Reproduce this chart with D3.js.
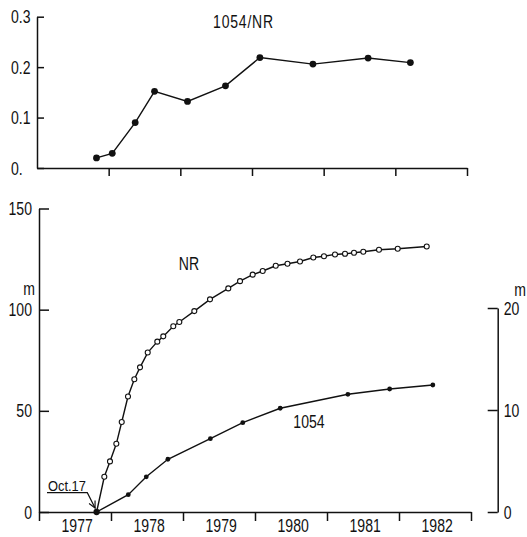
<!DOCTYPE html>
<html>
<head>
<meta charset="utf-8">
<script src="https://cdn.jsdelivr.net/npm/d3@7"></script>
<style>
  body { margin: 0; background: #fff; overflow: hidden; }
  svg { display: block; }
  text { font-family: "Liberation Sans", Arial, sans-serif; fill: #111; }
  .axis path, .axis line { stroke: #111; stroke-width: 1.5; }
  .axis text { font-size: 19px; }
</style>
</head>
<body>
<div id="chart"></div>
<script>
// ratio 1054/NR (top panel)
var ratioYears  = [1977.83, 1978.05, 1978.37, 1978.64, 1979.10, 1979.63, 1980.11, 1980.85, 1981.62, 1982.21];
var ratioValues = [0.020, 0.029, 0.090, 0.152, 0.132, 0.163, 0.219, 0.206, 0.218, 0.209];

// NR, cumulative m (left axis)
var nrYears  = [1977.80, 1977.907, 1977.986, 1978.074, 1978.149, 1978.236, 1978.324, 1978.403, 1978.510, 1978.643,
                1978.726, 1978.865, 1978.949, 1979.157, 1979.375, 1979.629, 1979.792, 1979.968, 1980.107, 1980.288,
                1980.451, 1980.625, 1980.810, 1980.958, 1981.111, 1981.250, 1981.375, 1981.504, 1981.722, 1981.982, 1982.385];
var nrValues = [0, 17.4, 25, 33.7, 44.5, 57.1, 65.6, 71.5, 78.8, 84.2,
                86.8, 91.8, 93.9, 99.3, 105.1, 110.5, 114.1, 117.3, 119.1, 121.7,
                122.7, 123.8, 125.8, 126.4, 127.3, 127.6, 128.1, 128.6, 129.6, 130.1, 131.2];

// 1054, cumulative m (right axis)
var s1054Years  = [1977.80, 1978.24, 1978.49, 1978.79, 1979.38, 1979.83, 1980.35, 1981.29, 1981.87, 1982.47];
var s1054Values = [0, 1.7, 3.45, 5.17, 7.19, 8.76, 10.17, 11.54, 12.06, 12.45];

var yearBounds = [1977, 1978, 1979, 1980, 1981, 1982, 1983];
var yearLabels = [1977, 1978, 1979, 1980, 1981, 1982];
var topTicks = [0, 0.1, 0.2, 0.3];
var topTickLabels = ["0.", "0.1", "0.2", "0.3"];
var leftTicks = [0, 50, 100, 150];
var rightTicks = [0, 10, 20];

var width = 527, height = 537;
var squeeze = 0.74;   // narrow lettering like the original

var svg = d3.select("#chart")
  .append("svg")
  .attr("width", width)
  .attr("height", height);

svg.append("defs").append("marker")
  .attr("id", "arrow")
  .attr("viewBox", "0 0 10 10")
  .attr("refX", 9).attr("refY", 5)
  .attr("markerWidth", 7).attr("markerHeight", 7)
  .attr("orient", "auto")
  .append("path")
  .attr("d", "M1,1 L9,5 L1,9")
  .attr("fill", "none")
  .attr("stroke", "#111")
  .attr("stroke-width", 1.4);

function label(x, y, size, anchor, str, sx) {
  return svg.append("text")
    .attr("transform", "translate(" + x + "," + y + ") scale(" + (sx || squeeze) + ",1)")
    .attr("text-anchor", anchor)
    .attr("font-size", size + "px")
    .text(str);
}

// squeeze the tick texts an axis made, keeping their anchor point
function narrowTicks(g, dx, anchor) {
  g.selectAll(".tick text")
    .attr("x", null)
    .attr("text-anchor", anchor)
    .attr("transform", "translate(" + dx + ",0) scale(" + squeeze + ",1)");
}

// scales
var xTop = d3.scaleLinear().domain([1977, 1983]).range([37, 467]);
var yTop = d3.scaleLinear().domain([0, 0.3]).range([168, 16.7]);
var xBot = d3.scaleLinear().domain([1977, 1983]).range([39, 471]);
var yLeft = d3.scaleLinear().domain([0, 150]).range([512, 208.5]);
var yRight = d3.scaleLinear().domain([0, 20]).range([512, 308]);

// ---- top panel
svg.append("g")
  .attr("class", "axis")
  .attr("transform", "translate(0," + yTop(0) + ")")
  .call(d3.axisBottom(xTop).tickValues(yearBounds.slice(1)).tickSize(8).tickSizeOuter(0).tickFormat(""));

svg.append("g")
  .attr("class", "axis")
  .attr("transform", "translate(" + xTop(1977) + ",0)")
  .call(d3.axisLeft(yTop).tickValues(topTicks).tickSizeInner(-7).tickSizeOuter(0)
    .tickFormat(function(d, i) { return topTickLabels[i]; }))
  .call(function(g) { narrowTicks(g, -26, "start"); });

var ratioLine = d3.line()
  .x(function(d, i) { return xTop(ratioYears[i]); })
  .y(function(d) { return yTop(d); });

svg.append("path")
  .datum(ratioValues)
  .attr("d", ratioLine)
  .attr("fill", "none")
  .attr("stroke", "#111")
  .attr("stroke-width", 1.4);

svg.selectAll(".ratioDot")
  .data(ratioValues)
  .enter()
  .append("circle")
    .attr("class", "ratioDot")
    .attr("cx", function(d, i) { return xTop(ratioYears[i]); })
    .attr("cy", function(d) { return yTop(d); })
    .attr("r", 3.4)
    .attr("fill", "#111");

label(243.5, 27.5, 17.5, "middle", "1054/NR", 0.8).attr("letter-spacing", "1px");

// ---- bottom panel
svg.append("g")
  .attr("class", "axis")
  .attr("transform", "translate(0," + yLeft(0) + ")")
  .call(d3.axisBottom(xBot).tickValues(yearBounds).tickSize(9).tickSizeOuter(0).tickFormat(""));

yearLabels.forEach(function(d) {
  label(xBot(d + 0.53), 532, 18.5, "middle", d, 0.76);
});

svg.append("g")
  .attr("class", "axis")
  .attr("transform", "translate(" + xBot(1977) + ",0)")
  .call(d3.axisLeft(yLeft).tickValues(leftTicks).tickSizeInner(-10).tickSizeOuter(0))
  .call(function(g) { narrowTicks(g, -7, "end"); });

svg.append("g")
  .attr("class", "axis")
  .attr("transform", "translate(497.7,0)")
  .call(d3.axisRight(yRight).tickValues(rightTicks).tickSizeInner(-10).tickSizeOuter(0))
  .call(function(g) { narrowTicks(g, 6, "start"); });

label(29, 294.5, 19, "middle", "m");
label(520, 295.5, 19, "middle", "m");

var lineLeft = d3.line()
  .x(function(d, i) { return xBot(nrYears[i]); })
  .y(function(d) { return yLeft(d); });

var lineRight = d3.line()
  .x(function(d, i) { return xBot(s1054Years[i]); })
  .y(function(d) { return yRight(d); });

svg.append("path")
  .datum(s1054Values)
  .attr("d", lineRight)
  .attr("fill", "none")
  .attr("stroke", "#111")
  .attr("stroke-width", 1.4);

svg.selectAll(".dot1054")
  .data(s1054Values)
  .enter()
  .append("circle")
    .attr("class", "dot1054")
    .attr("cx", function(d, i) { return xBot(s1054Years[i]); })
    .attr("cy", function(d) { return yRight(d); })
    .attr("r", 2.4)
    .attr("fill", "#111");

svg.append("path")
  .datum(nrValues)
  .attr("d", lineLeft)
  .attr("fill", "none")
  .attr("stroke", "#111")
  .attr("stroke-width", 1.4);

svg.selectAll(".dotNR")
  .data(nrValues)
  .enter()
  .append("circle")
    .attr("class", "dotNR")
    .attr("cx", function(d, i) { return xBot(nrYears[i]); })
    .attr("cy", function(d) { return yLeft(d); })
    .attr("r", function(d, i) { return i === 0 ? 2.6 : 2.5; })
    .attr("fill", function(d, i) { return i === 0 ? "#111" : "#fff"; })
    .attr("stroke", "#111")
    .attr("stroke-width", 1.1);

label(189, 269.5, 19, "middle", "NR");
label(309, 427.5, 19, "middle", "1054");

// Oct.17 annotation pointing at the start point
var x0 = xBot(nrYears[0]), y0 = yLeft(nrValues[0]);
label(48, 491, 14, "start", "Oct.17", 0.92);

svg.append("path")
  .attr("d", "M47,492.7 L87.3,492.7 L" + (x0 - 1.5) + "," + (y0 - 4))
  .attr("fill", "none")
  .attr("stroke", "#111")
  .attr("stroke-width", 1.2)
  .attr("marker-end", "url(#arrow)");
</script>
</body>
</html>
